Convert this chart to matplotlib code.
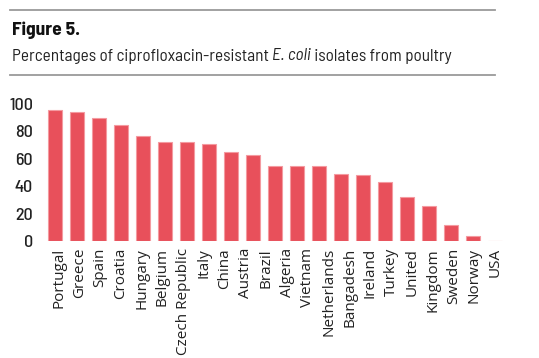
import matplotlib
matplotlib.use("Agg")
import matplotlib.pyplot as plt
import numpy as np
from matplotlib.lines import Line2D

countries = ["Portugal", "Greece", "Spain", "Croatia", "Hungary", "Belgium",
             "Czech Republic", "Italy", "China", "Austria", "Brazil", "Algeria",
             "Vietnam", "Netherlands", "Bangadesh", "Ireland", "Turkey",
             "United Kingdom", "Sweden", "Norway", "USA"]
values = [95.6, 94.2, 89.8, 84.7, 76.6, 72.5, 72.0, 70.6, 65.0, 62.5, 55.0,
          55.0, 55.0, 48.7, 48.2, 43.0, 32.4, 25.5, 12.0, 3.6, 0.0]
tick_labels = ["Portugal", "Greece", "Spain", "Croatia", "Hungary", "Belgium",
               "Czech Republic", "Italy", "China", "Austria", "Brazil", "Algeria",
               "Vietnam", "Netherlands", "Bangadesh", "Ireland", "Turkey",
               "United", "Kingdom", "Sweden", "Norway", "USA"]
yticks = [0, 20, 40, 60, 80, 100]

FONT = ["Barlow Semi Condensed", "DejaVu Sans"]
LABEL_FONT = ["Open Sans", "DejaVu Sans"]
plt.rcParams["font.family"] = FONT
TXT = "#222222"

W, H = 539, 358
fig = plt.figure(figsize=(W / 100, H / 100), dpi=100)

left_px, right_px = 40, 505
bottom_px, top_px = 358 - 241, 358 - 104
ax = fig.add_axes([left_px / W, bottom_px / H, (right_px - left_px) / W, (top_px - bottom_px) / H])

x = np.arange(len(countries))
ax.bar(x, values, width=0.6, color="#E8505B", edgecolor="#F49AA0", linewidth=0.8)

span = (right_px - left_px) / 22.0
xmin = -(55 - left_px) / 22.0
ax.set_xlim(xmin, xmin + span)
ax.set_ylim(0, 100)

ax.set_yticks(yticks)
ax.set_yticklabels([str(v) for v in yticks], fontsize=13, color=TXT, fontweight="medium")
ax.tick_params(axis="y", length=0, pad=5)

label_pos = np.linspace(0.16, 20.0, len(tick_labels))
ax.set_xticks(label_pos)
ax.set_xticklabels(tick_labels, rotation=90, fontsize=11, color=TXT, ha="center", va="top",
                   family=LABEL_FONT)
ax.tick_params(axis="x", length=0, pad=5)

for s in ax.spines.values():
    s.set_visible(False)

for ypx in (10, 75):
    fig.add_artist(Line2D([10 / W, 495 / W], [1 - ypx / H, 1 - ypx / H],
                          color="#9a9a9a", linewidth=1.3, transform=fig.transFigure))

fig.text(12 / W, 1 - 30 / H, "Figure 5.", fontsize=14, fontweight="bold",
         color="#111111", va="center", ha="left")

renderer = fig.canvas.get_renderer()
parts = [("Percentages of ciprofloxacin-resistant ", "normal"),
         ("E. coli", "italic"),
         (" isolates from poultry", "normal")]
xpos = 12 / W
for txt, style in parts:
    t = fig.text(xpos, 1 - 56 / H, txt, fontsize=12.35, style=style, color=TXT,
                 va="center", ha="left")
    bb = t.get_window_extent(renderer=renderer)
    xpos += bb.width / W

fig.savefig("out.png", dpi=100)
